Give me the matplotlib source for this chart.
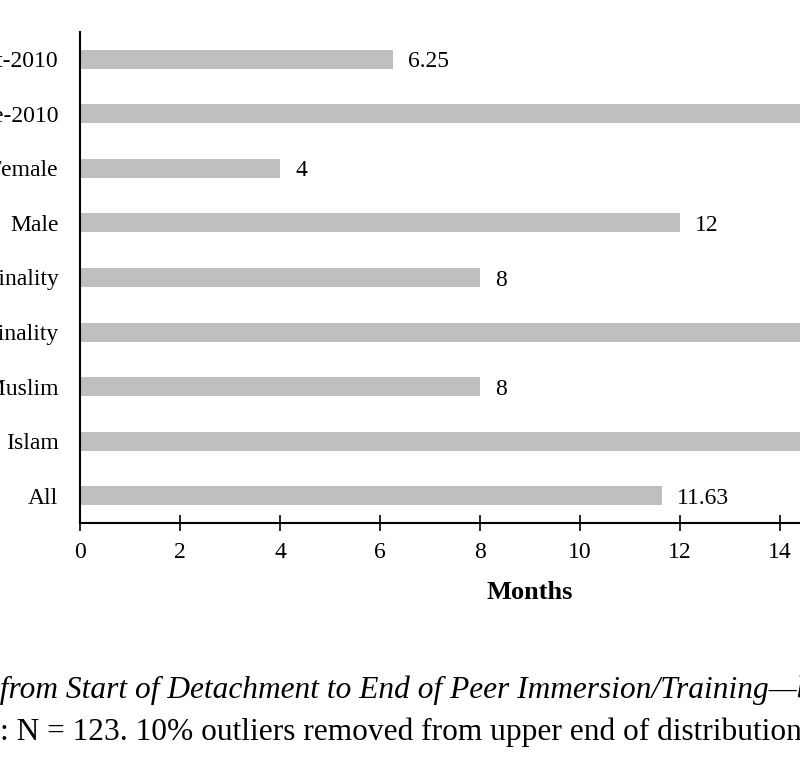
import numpy as np
import matplotlib.pyplot as plt

plt.rcParams['font.family'] = ['Liberation Serif', 'DejaVu Serif']

# median months, top to bottom
categories = ["Post-2010", "Pre-2010", "Female", "Male", "No Prior Criminality",
              "Prior Criminality", "Born Muslim", "Islam", "All"]
months = [6.25, 16.5, 4, 12, 8, 15.5, 8, 17, 11.63]
value_labels = ["6.25", "16.5", "4", "12", "8", "15.5", "8", "17", "11.63"]
xticks = [0, 2, 4, 6, 8, 10, 12, 14, 16, 18]

caption_title = "Median Time from Start of Detachment to End of Peer Immersion/Training\u2014by Category"
caption_note = "Note: N = 123. 10% outliers removed from upper end of distribution."

W, H = 800, 758
fig = plt.figure(figsize=(W / 100, H / 100), dpi=100)
# axes runs past the right edge of the figure, like the cropped original
ax = fig.add_axes([80 / W, 1 - 523 / H, 900 / W, 491 / H])

y = np.arange(len(categories))
ax.barh(y, months, height=0.35, color="#BFBFBF")
for yi, v, lab in zip(y, months, value_labels):
    ax.annotate(lab, (v, yi), xytext=(11, 0), textcoords="offset points",
                va="center_baseline", ha="left", fontsize=17)

ax.set_xlim(0, 18)
ax.set_ylim(len(categories) - 0.5, -0.5)
ax.set_yticks(y)
ax.set_yticklabels(categories, fontsize=17)
ax.set_xticks(xticks)
ax.set_xticklabels([str(t) for t in xticks], fontsize=17)
ax.tick_params(axis="y", length=0, pad=15.5)
ax.tick_params(axis="x", direction="inout", length=11, width=1.2, pad=8)

for s in ["top", "right"]:
    ax.spines[s].set_visible(False)
for s in ["left", "bottom"]:
    ax.spines[s].set_linewidth(1.5)

ax.set_xlabel("Months", fontsize=19, fontweight="bold", labelpad=13)

# captions are cropped on the left in the reference: shift so the prefix falls off
renderer = fig.canvas.get_renderer()

def cropped_text(full, prefix, ypix, **kw):
    tmp = fig.text(0, 0, prefix, **kw)
    w = tmp.get_window_extent(renderer).width
    tmp.remove()
    fig.text(-w / W, 1 - ypix / H, full, va="center", ha="left", **kw)

cropped_text(caption_title, "Median Time ", 690, fontsize=22.6, style="italic")
cropped_text(caption_note, "Note", 732, fontsize=22.6)

fig.savefig("out.png", dpi=100)
